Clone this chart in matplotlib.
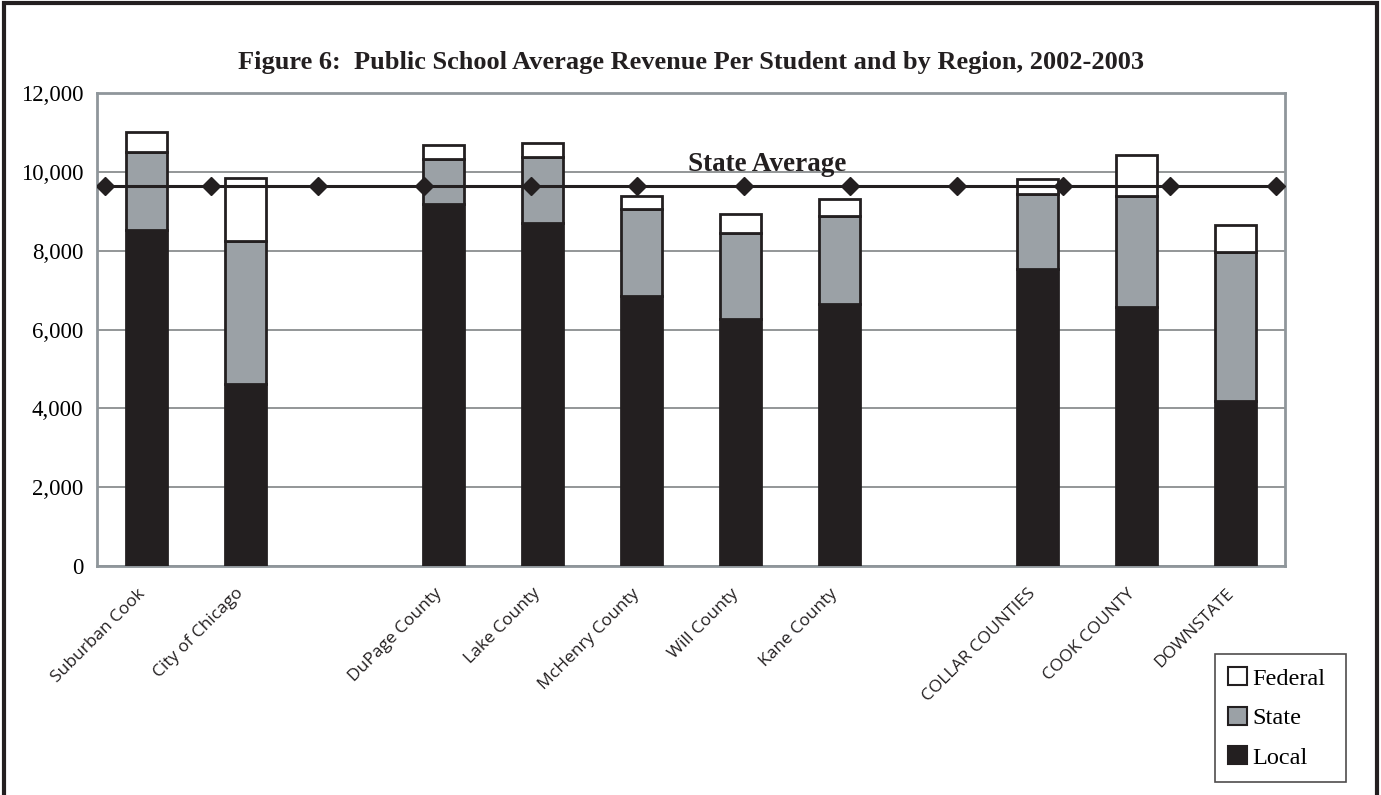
import numpy as np
import matplotlib
matplotlib.use("Agg")
import matplotlib.pyplot as plt
from matplotlib.patches import Rectangle, Patch
from matplotlib.transforms import ScaledTranslation

# ------------------ DATOS ------------------
regiones = ["Suburban Cook", "City of Chicago", "", "DuPage County", "Lake County",
            "McHenry County", "Will County", "Kane County", "",
            "COLLAR COUNTIES", "COOK COUNTY", "DOWNSTATE"]
local = [8520, 4610, np.nan, 9190, 8710, 6850, 6260, 6640, np.nan, 7540, 6560, 4180]
state = [1990, 3640, np.nan, 1140, 1670, 2210, 2180, 2240, np.nan, 1890, 2820, 3780]
federal = [490, 1590, np.nan, 360, 340, 340, 500, 430, np.nan, 390, 1040, 700]
promedio_estatal = [9640] * 12

color_local = "#231f20"
color_state = "#9ba1a6"
color_federal = "#ffffff"
serif = ["Liberation Serif", "DejaVu Serif"]

# ------------------ FIGURA ------------------
fig = plt.figure(figsize=(13.81, 7.95), dpi=100, facecolor="white")
ax = fig.add_axes([0.0702, 0.288, 0.8603, 0.595])

x = np.arange(len(regiones))
local_arr = np.array(local, dtype=float)
state_arr = np.array(state, dtype=float)
fed_arr = np.array(federal, dtype=float)

ancho = 0.41
borde = dict(edgecolor="#231f20", linewidth=2)
ax.bar(x, local_arr, ancho, color=color_local, zorder=3, **borde)
ax.bar(x, state_arr, ancho, bottom=local_arr, color=color_state, zorder=3, **borde)
ax.bar(x, fed_arr, ancho, bottom=local_arr + state_arr, color=color_federal, zorder=3, **borde)

ax.set_xlim(-0.5, len(regiones) - 0.5)
ax.set_ylim(0, 12000)
ax.set_yticks(np.arange(0, 12001, 2000))
ax.set_yticklabels([f"{v:,}" for v in range(0, 12001, 2000)], family=serif, fontsize=16.5)
ax.yaxis.grid(True, color="#8a8d8f", linewidth=1.3, zorder=0)
ax.set_axisbelow(True)
ax.set_xticks(x)
ax.set_xticklabels(regiones, rotation=45, ha="right", va="top", rotation_mode="anchor",
                   family=["Open Sans", "DejaVu Sans"], fontsize=12.5, color="#231f20")
ax.tick_params(axis="y", length=0, pad=10)
ax.tick_params(axis="x", length=0, pad=14)
desplaza = ScaledTranslation(-7 / 72, 0, fig.dpi_scale_trans)
for lab in ax.get_xticklabels():
    lab.set_transform(lab.get_transform() + desplaza)
for s in ax.spines.values():
    s.set_color("#8f969b")
    s.set_linewidth(2)

# linea del promedio estatal en eje secundario
ax2 = ax.twiny()
ax2.plot(np.arange(len(promedio_estatal)), promedio_estatal, color="#231f20", linewidth=2.2,
         marker="D", markersize=9, zorder=5)
ax2.set_xlim(-0.075, len(promedio_estatal) - 1 + 0.085)
ax2.set_ylim(0, 12000)
ax2.set_xticks([])
for s in ax2.spines.values():
    s.set_visible(False)

ax.text(0.564, 0.835, "State Average", transform=ax.transAxes, ha="center", va="baseline",
        family=serif, fontsize=19.5, fontweight="bold", color="#231f20", zorder=6)

fig.text(0.5, 0.922, "Figure 6:  Public School Average Revenue Per Student and by Region, 2002-2003",
         ha="center", va="center", family=serif, fontsize=19, fontweight="bold", color="#231f20")

# leyenda
handles = [Patch(facecolor=color_federal, edgecolor="#231f20", linewidth=1.5, label="Federal"),
           Patch(facecolor=color_state, edgecolor="#231f20", linewidth=1.5, label="State"),
           Patch(facecolor=color_local, edgecolor="#231f20", linewidth=1.5, label="Local")]
leg = fig.legend(handles=handles, loc="lower left", bbox_to_anchor=(0.8798, 0.0164, 0.0949, 0.16),
                 mode="expand", prop={"family": serif, "size": 17.5}, frameon=True, fancybox=False,
                 handlelength=0.75, handleheight=0.75, handletextpad=0.25, labelspacing=0.7,
                 borderpad=0.55, borderaxespad=0)
leg.get_frame().set_edgecolor("#231f20")
leg.get_frame().set_linewidth(1.2)

# marco exterior
fig.patches.append(Rectangle((0.003, -0.01), 0.994, 1.006, transform=fig.transFigure,
                             fill=False, edgecolor="#231f20", linewidth=3))

fig.savefig("out.png", dpi=100, facecolor="white")
